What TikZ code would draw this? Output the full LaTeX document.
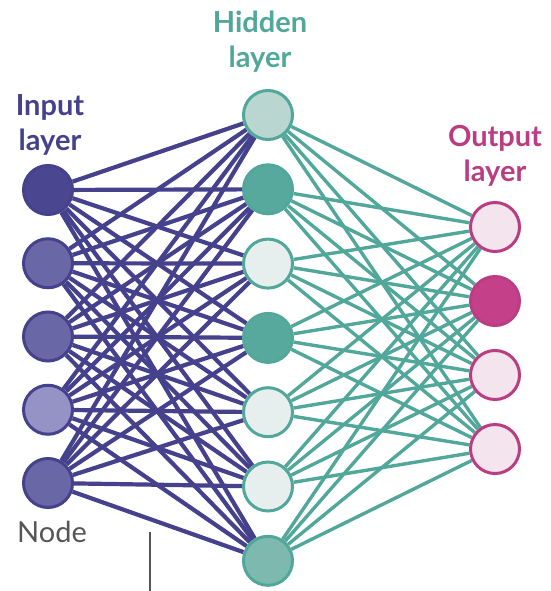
\documentclass[tikz,border=0pt]{standalone}
\usepackage{fontspec}
\setmainfont{Lato}
\usepackage{tikz}
\usetikzlibrary{backgrounds}
\definecolor{inpurple}{HTML}{45418C}
\definecolor{inA}{HTML}{4A4690}
\definecolor{inB}{HTML}{6A67A6}
\definecolor{inC}{HTML}{9593C6}
\definecolor{hidteal}{HTML}{52A79B}
\definecolor{hidA}{HTML}{B9D6D1}
\definecolor{hidB}{HTML}{58A99D}
\definecolor{hidC}{HTML}{E6EFED}
\definecolor{hidD}{HTML}{7DB9AF}
\definecolor{outpink}{HTML}{BA3D82}
\definecolor{outA}{HTML}{F4E4EE}
\definecolor{outB}{HTML}{C4418A}
\definecolor{nodegray}{HTML}{555555}
\tikzstyle{neuron} = [circle, minimum size=49pt, inner sep=0pt, line width=3pt]
\tikzstyle{inode} = [neuron, draw=inpurple]
\tikzstyle{hnode} = [neuron, draw=hidteal]
\tikzstyle{onode} = [neuron, draw=outpink]
\tikzstyle{inlink} = [inpurple, line width=4.2pt]
\tikzstyle{hlink} = [hidteal, line width=3.4pt]
\tikzstyle{layertitle} = [font=\fontsize{29}{35}\selectfont\bfseries, align=center, inner sep=0pt]

\begin{document}
\begin{tikzpicture}[x=1pt, y=-1pt]
                \useasboundingbox (0,0) rectangle (550,591);
                % layers
                \foreach \i/\c in {1/inA,2/inB,3/inB,4/inC,5/inB}
                    \node[inode, fill=\c] (i\i) at (48,{190+73.25*(\i-1)}) {};
                \foreach \j/\c in {1/hidA,2/hidB,3/hidC,4/hidB,5/hidC,6/hidC,7/hidD}
                    \node[hnode, fill=\c] (h\j) at (268,{115+74.3*(\j-1)}) {};
                \foreach \k/\c in {1/outA,2/outB,3/outA,4/outA}
                    \node[onode, fill=\c] (o\k) at (495,{227+74*(\k-1)}) {};
                % links
                \begin{pgfonlayer}{background}
                    \foreach \i in {1,...,5}
                        \foreach \j in {1,...,7}
                            \draw[inlink] (i\i) -- (h\j);
                    \foreach \j in {1,...,7}
                        \foreach \k in {1,...,4}
                            \draw[hlink] (h\j) -- (o\k);
                \end{pgfonlayer}
                % titles
                \node[layertitle, text=inpurple] (intitle) at (50,125) {Input\\layer};
                \node[layertitle, text=hidteal] (hidtitle) at (260,42) {Hidden\\layer};
                \node[layertitle, text=outpink] (outtitle) at (495,156) {Output\\layer};
                \node[font=\fontsize{29}{35}\selectfont, text=nodegray, inner sep=0pt] (nodelabel) at (52,532) {Node};
                \coordinate (ticktop) at (150,532);
                \coordinate (tickend) at (150,591);
                \draw[nodegray, line width=2pt] (ticktop) -- (tickend);
            \end{tikzpicture}
\end{document}
